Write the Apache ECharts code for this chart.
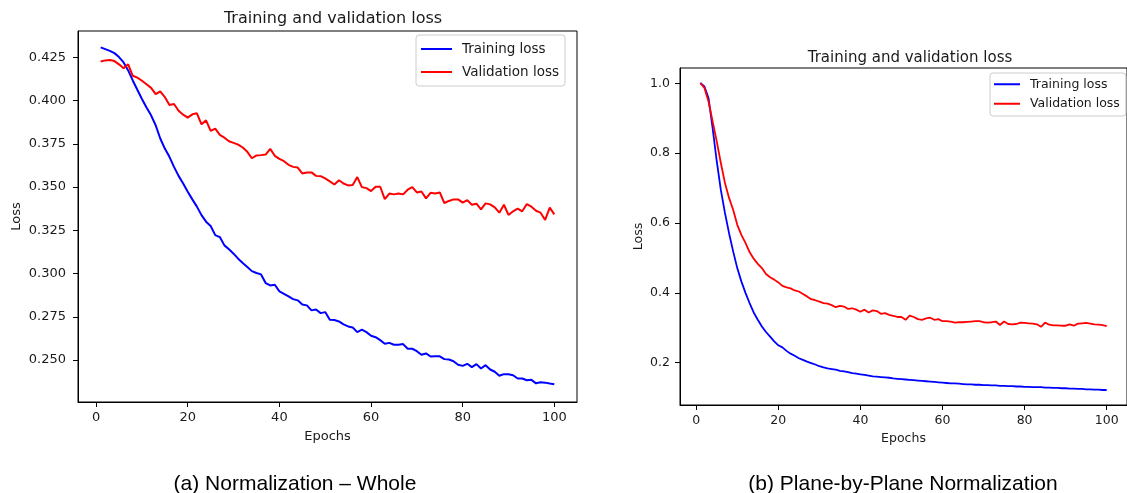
<!DOCTYPE html>
<html>
<head>
<meta charset="utf-8">
<script src="https://cdn.jsdelivr.net/npm/echarts@6/dist/echarts.min.js"></script>
<style>
html,body{margin:0;padding:0;background:#fff;}
#c{width:1127px;height:493px;}
</style>
</head>
<body>
<div id="c"></div>
<script>
const epochs = [1,2,3,4,5,6,7,8,9,10,11,12,13,14,15,16,17,18,19,20,21,22,23,24,25,26,27,28,29,30,31,32,33,34,35,36,37,38,39,40,41,42,43,44,45,46,47,48,49,50,51,52,53,54,55,56,57,58,59,60,61,62,63,64,65,66,67,68,69,70,71,72,73,74,75,76,77,78,79,80,81,82,83,84,85,86,87,88,89,90,91,92,93,94,95,96,97,98,99,100];

const wholeTrain = [0.4308,0.4298,0.4288,0.4275,0.4252,0.4221,0.4175,0.4117,0.4063,0.4010,
0.3960,0.3915,0.3858,0.3781,0.3723,0.3675,0.3617,0.3565,0.3521,0.3473,
0.3429,0.3387,0.3338,0.3300,0.3275,0.3222,0.3211,0.3163,0.3140,0.3115,
0.3086,0.3061,0.3038,0.3014,0.3003,0.2995,0.2945,0.2931,0.2935,0.2897,
0.2883,0.2868,0.2852,0.2845,0.2821,0.2816,0.2787,0.2792,0.2771,0.2777,
0.2733,0.2731,0.2723,0.2706,0.2694,0.2688,0.2661,0.2675,0.2661,0.2640,
0.2632,0.2615,0.2594,0.2599,0.2588,0.2588,0.2592,0.2565,0.2565,0.2551,
0.2530,0.2538,0.2520,0.2521,0.2521,0.2505,0.2503,0.2493,0.2472,0.2466,
0.2478,0.2459,0.2476,0.2451,0.2470,0.2445,0.2432,0.2409,0.2418,0.2417,
0.2412,0.2393,0.2393,0.2383,0.2385,0.2365,0.2371,0.2369,0.2364,0.2360];

const wholeVal = [0.4227,0.4233,0.4235,0.4229,0.4210,0.4187,0.4210,0.4144,0.4133,0.4115,
0.4095,0.4074,0.4038,0.4054,0.4021,0.3975,0.3981,0.3942,0.3919,0.3902,
0.3921,0.3927,0.3863,0.3886,0.3825,0.3838,0.3802,0.3786,0.3765,0.3756,
0.3746,0.3729,0.3704,0.3667,0.3683,0.3685,0.3688,0.3721,0.3681,0.3663,
0.3650,0.3629,0.3617,0.3613,0.3579,0.3585,0.3585,0.3565,0.3563,0.3550,
0.3533,0.3515,0.3540,0.3521,0.3510,0.3512,0.3558,0.3500,0.3494,0.3477,
0.3502,0.3502,0.3430,0.3463,0.3458,0.3463,0.3458,0.3485,0.3500,0.3469,
0.3475,0.3435,0.3467,0.3463,0.3469,0.3408,0.3420,0.3429,0.3429,0.3410,
0.3425,0.3398,0.3404,0.3371,0.3406,0.3400,0.3383,0.3352,0.3398,0.3339,
0.3360,0.3375,0.3360,0.3402,0.3387,0.3363,0.3352,0.3310,0.3381,0.3342];

const planeTrain = [1.001,0.991,0.958,0.872,0.777,0.695,0.629,0.571,0.519,0.471,
0.433,0.400,0.371,0.344,0.323,0.304,0.288,0.275,0.261,0.250,
0.244,0.234,0.226,0.220,0.213,0.208,0.203,0.199,0.195,0.190,
0.187,0.184,0.182,0.180,0.177,0.175,0.173,0.170,0.169,0.167,
0.165,0.163,0.161,0.160,0.159,0.158,0.157,0.155,0.154,0.153,
0.152,0.151,0.150,0.149,0.148,0.147,0.146,0.145,0.144,0.143,
0.142,0.141,0.141,0.140,0.139,0.138,0.138,0.137,0.137,0.136,
0.136,0.135,0.135,0.134,0.134,0.133,0.133,0.132,0.132,0.131,
0.131,0.130,0.130,0.130,0.129,0.129,0.128,0.128,0.127,0.127,
0.126,0.126,0.125,0.125,0.124,0.124,0.123,0.123,0.122,0.122];

const planeVal = [1.001,0.987,0.948,0.891,0.834,0.772,0.715,0.672,0.638,0.595,
0.566,0.543,0.517,0.498,0.483,0.471,0.454,0.445,0.438,0.430,
0.420,0.416,0.413,0.407,0.404,0.397,0.390,0.382,0.379,0.375,
0.371,0.369,0.365,0.359,0.363,0.361,0.354,0.356,0.352,0.346,
0.352,0.344,0.350,0.348,0.340,0.342,0.337,0.334,0.331,0.331,
0.323,0.335,0.331,0.325,0.323,0.327,0.329,0.323,0.325,0.319,
0.319,0.318,0.315,0.316,0.316,0.317,0.318,0.319,0.319,0.316,
0.315,0.316,0.318,0.308,0.318,0.311,0.310,0.311,0.315,0.314,
0.313,0.312,0.310,0.303,0.315,0.309,0.307,0.307,0.306,0.306,
0.310,0.306,0.312,0.313,0.314,0.312,0.310,0.309,0.308,0.305];

const xTicks = [0,20,40,60,80,100];
const wholeYTicks = [0.250,0.275,0.300,0.325,0.350,0.375,0.400,0.425];
const planeYTicks = [0.2,0.4,0.6,0.8,1.0];
const seriesNames = ['Training loss','Validation loss'];
const chartTitle = 'Training and validation loss';
const captions = ['(a) Normalization \u2013 Whole','(b) Plane-by-Plane Normalization'];
const xName = 'Epochs';
const yName = 'Loss';

const FONT = 'DejaVu Sans';
const TXT = '#1a1a1a';
const pairs = arr => epochs.map((e,i)=>[e,arr[i]]);

function xAxisCfg(gi, fs){
  return {
    type:'value', gridIndex:gi, min:-3.95, max:104.95,
    name:xName, nameLocation:'middle', nameGap: gi===0?28:26,
    nameTextStyle:{fontFamily:FONT,fontSize:fs,color:TXT},
    axisLine:{show:true,onZero:false,lineStyle:{color:'#000',width:1}},
    axisTick:{show:true,inside:false,length:5,lineStyle:{color:'#000',width:1},customValues:xTicks},
    axisLabel:{fontFamily:FONT,fontSize:fs,color:TXT,margin:9,customValues:xTicks},
    splitLine:{show:false}
  };
}
function yAxisCfg(gi, fs, min, max, ticks, dec, gap, margin){
  return {
    type:'value', gridIndex:gi, min:min, max:max,
    name:yName, nameLocation:'middle', nameGap:gap,
    nameTextStyle:{fontFamily:FONT,fontSize:fs,color:TXT},
    axisLine:{show:true,onZero:false,lineStyle:{color:'#000',width:1}},
    axisTick:{show:true,inside:false,length:5,lineStyle:{color:'#000',width:1},customValues:ticks},
    axisLabel:{fontFamily:FONT,fontSize:fs,color:TXT,margin:margin,customValues:ticks,formatter:v=>v.toFixed(dec)},
    splitLine:{show:false}
  };
}
function lineSeries(name, data, color, xi, w){
  return {type:'line', name:name, data:data, xAxisIndex:xi, yAxisIndex:xi,
    symbol:'none', showSymbol:false, smooth:false,
    lineStyle:{color:color,width:w}, itemStyle:{color:color}};
}

const chart = echarts.init(document.getElementById('c'));
chart.setOption({
  animation:false,
  backgroundColor:'#fff',
  title:[
    {text:chartTitle,left:328,top:6,textAlign:'center',textStyle:{fontFamily:FONT,fontSize:16,fontWeight:'normal',color:TXT}},
    {text:chartTitle,left:905,top:46,textAlign:'center',textStyle:{fontFamily:FONT,fontSize:15,fontWeight:'normal',color:TXT}},
    {text:captions[0],left:290,top:469,textAlign:'center',textStyle:{fontFamily:'Liberation Sans',fontSize:21,fontWeight:'normal',color:'#000'}},
    {text:captions[1],left:898,top:469,textAlign:'center',textStyle:{fontFamily:'Liberation Sans',fontSize:21,fontWeight:'normal',color:'#000'}}
  ],
  grid:[
    {left:78,top:31,width:499,height:371,show:true,borderColor:'#000',borderWidth:1,backgroundColor:'transparent'},
    {left:680,top:68,width:453,height:337,show:true,borderColor:'#000',borderWidth:1,backgroundColor:'transparent'}
  ],
  xAxis:[xAxisCfg(0,13), xAxisCfg(1,12.5)],
  yAxis:[
    yAxisCfg(0,13,0.2257,0.4403,wholeYTicks,3,55,12),
    yAxisCfg(1,12.5,0.079,1.044,planeYTicks,1,35,10)
  ],
  legend:[
    {data:seriesNames, orient:'vertical', left:416, top:35, icon:'rect', itemWidth:31, itemHeight:2, itemGap:7,
     padding:[6,6,6,5], backgroundColor:'rgba(255,255,255,0.8)', borderColor:'#cccccc', borderWidth:1, borderRadius:3,
     textStyle:{fontFamily:FONT,fontSize:13.5,color:TXT,lineHeight:16,padding:[0,0,0,5]}, selectedMode:false},
    {data:seriesNames, orient:'vertical', left:990, top:73, icon:'rect', itemWidth:26, itemHeight:2, itemGap:5,
     padding:[4,6,5,4], backgroundColor:'rgba(255,255,255,0.8)', borderColor:'#cccccc', borderWidth:1, borderRadius:3,
     textStyle:{fontFamily:FONT,fontSize:12.5,color:TXT,lineHeight:14.5,padding:[0,0,0,5]}, selectedMode:false}
  ],
  series:[
    lineSeries(seriesNames[0], pairs(wholeTrain), '#0000ff', 0, 2),
    lineSeries(seriesNames[1], pairs(wholeVal), '#ff0000', 0, 2),
    lineSeries(seriesNames[0], pairs(planeTrain), '#0000ff', 1, 1.8),
    lineSeries(seriesNames[1], pairs(planeVal), '#ff0000', 1, 1.8)
  ]
});
</script>
</body>
</html>
